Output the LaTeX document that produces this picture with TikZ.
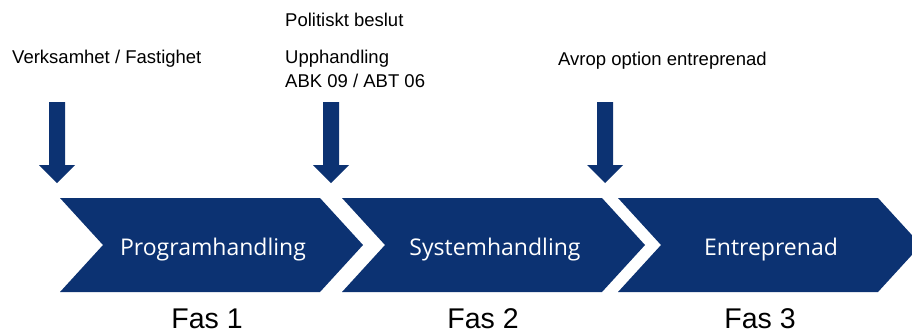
\documentclass[tikz,border=0pt]{standalone}
\usepackage{fontspec}
\setmainfont{Liberation Sans}
\newfontfamily\chevfont{Open Sans}
\usepackage{tikz}
\usetikzlibrary{positioning}
\definecolor{fasblue}{RGB}{12,50,114}
\tikzset{fas/.style={fill=fasblue},
  steplabel/.style={font=\fontsize{18.5}{23.5}\selectfont,anchor=base west,inner sep=0pt,align=left},
  fastext/.style={font=\chevfont\fontsize{23}{26}\selectfont,text=white,anchor=base,inner sep=0pt},
  fasname/.style={font=\fontsize{28.5}{32}\selectfont,anchor=base,inner sep=0pt,text depth=0pt}}

\begin{document}
\begin{tikzpicture}[x=1pt,y=-1pt]
  \useasboundingbox (0,0) rectangle (912,333);
  % the three phases
  \foreach \x/\name/\txt in {60/prog/Programhandling,342/system/Systemhandling,618/entre/Entreprenad}{
    \fill[fas] (\x,198) -- ++(260,0) -- ++(43,47) -- ++(-43,47) -- ++(-260,0) -- ++(43,-47) -- cycle;
    \node[fastext] (\name) at (\x+153,255) {\txt};
  }
  % down arrows
  \foreach \x in {57,331,605}{
    \fill[fas] (\x-8,102) -- (\x+8,102) -- (\x+8,165) -- (\x+18,165) -- (\x,183) -- (\x-18,165) -- (\x-8,165) -- cycle;
  }
  \node[steplabel] (verks) at (12,63.5) {Verksamhet / Fastighet};
  \node[steplabel] (politiskt) at (285,26.7) {Politiskt beslut};
  \node[steplabel,anchor=north west] (upph) at (285,50) {Upphandling\\ABK 09 / ABT 06};
  \node[steplabel] (avrop) at (558,65) {Avrop option entreprenad};

  \node[fasname] (fas1) at (207,328) {Fas 1};
  \node[fasname] (fas2) at (483,328) {Fas 2};
  \node[fasname] (fas3) at (760,328) {Fas 3};
\end{tikzpicture}
\end{document}
